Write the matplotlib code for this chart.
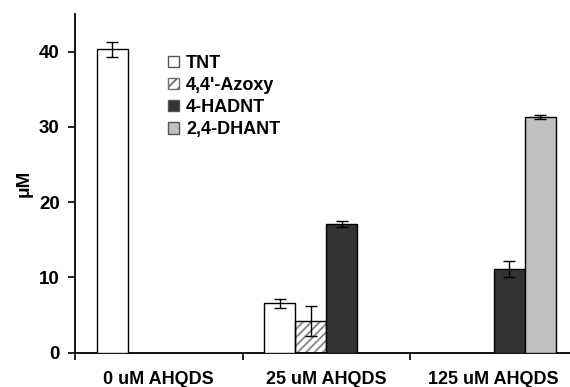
import numpy as np
import matplotlib
matplotlib.use("Agg")
import matplotlib.pyplot as plt
from matplotlib.patches import Patch

plt.rcParams['font.family'] = ['Liberation Sans', 'DejaVu Sans']
plt.rcParams['font.weight'] = 'bold'
plt.rcParams['hatch.linewidth'] = 1.4

# Data
categories = ["0 uM AHQDS", "25 uM AHQDS", "125 uM AHQDS"]
series = ["TNT", "4,4'-Azoxy", "4-HADNT", "2,4-DHANT"]
tnt = [40.3, 6.6, np.nan]
tnt_err = [1.0, 0.6, np.nan]
azoxy = [np.nan, 4.2, np.nan]
azoxy_err = [np.nan, 2.0, np.nan]
hadnt = [np.nan, 17.1, 11.1]
hadnt_err = [np.nan, 0.4, 1.1]
dhant = [np.nan, np.nan, 31.3]
dhant_err = [np.nan, np.nan, 0.3]
y_ticks = [0, 10, 20, 30, 40]

values = [tnt, azoxy, hadnt, dhant]
errors = [tnt_err, azoxy_err, hadnt_err, dhant_err]
faces = ["white", "white", "#333333", "#c0c0c0"]
hatches = [None, "////", None, None]

W, H = 570, 387
fig = plt.figure(figsize=(W / 100, H / 100), dpi=100)
left, right, bottom, top = 75, 577.5, 352.7, 14
ax = fig.add_axes([left / W, 1 - bottom / H, (right - left) / W, (bottom - top) / H])

x = np.arange(len(categories))
w = 0.185
offsets = (np.arange(4) - 1.5) * w

for vals, errs, fc, hatch, off in zip(values, errors, faces, hatches, offsets):
    vals = np.array(vals, dtype=float)
    errs = np.array(errs, dtype=float)
    m = ~np.isnan(vals)
    if hatch:
        ax.bar(x[m] + off, vals[m], w, facecolor=fc, edgecolor="#8c8c8c",
               hatch=hatch, linewidth=0, zorder=2)
        ax.bar(x[m] + off, vals[m], w, facecolor="none", edgecolor="black",
               linewidth=1.0, zorder=3)
    else:
        ax.bar(x[m] + off, vals[m], w, facecolor=fc, edgecolor="black",
               linewidth=1.0, zorder=3)
    ax.errorbar(x[m] + off, vals[m], yerr=errs[m], fmt="none", ecolor="black",
                elinewidth=1.0, capsize=4, capthick=1.0, zorder=4)

ax.set_xlim(-0.5, 2.5)
ax.set_ylim(0, 45)
ax.set_yticks(y_ticks)
ax.set_yticklabels([str(t) for t in y_ticks], fontsize=13.5, fontweight="bold")
ax.set_xticks([-0.5, 0.5, 1.5, 2.5])
ax.set_xticklabels([])
ax.set_xticks(x, minor=True)
ax.set_xticklabels(categories, minor=True, fontsize=13, fontweight="bold")
ax.tick_params(axis="x", which="minor", length=0, pad=13)
ax.tick_params(axis="x", which="major", direction="out", length=5, width=1.2)
ax.tick_params(axis="y", direction="out", length=5, width=1.2, pad=6)

for s in ["top", "right"]:
    ax.spines[s].set_visible(False)
for s in ["left", "bottom"]:
    ax.spines[s].set_linewidth(1.3)

ax.set_ylabel("μM", fontsize=13.5, fontweight="bold")
ax.yaxis.set_label_coords(-0.085, 0.5)

handles = []
for fc, hatch in zip(faces, hatches):
    if hatch:
        handles.append(Patch(facecolor=fc, edgecolor="#707070", hatch="///", linewidth=1.0))
    else:
        handles.append(Patch(facecolor=fc, edgecolor="#555555", linewidth=1.0))
leg = fig.legend(handles, series, loc="upper left",
                 bbox_to_anchor=(168 / W, 1 - 55 / H), frameon=False,
                 prop={"family": "Liberation Sans", "weight": "bold", "size": 13},
                 handlelength=0.6, handleheight=0.6, handletextpad=0.4,
                 labelspacing=0.28, borderpad=0, borderaxespad=0)

fig.savefig("out.png", dpi=100)
